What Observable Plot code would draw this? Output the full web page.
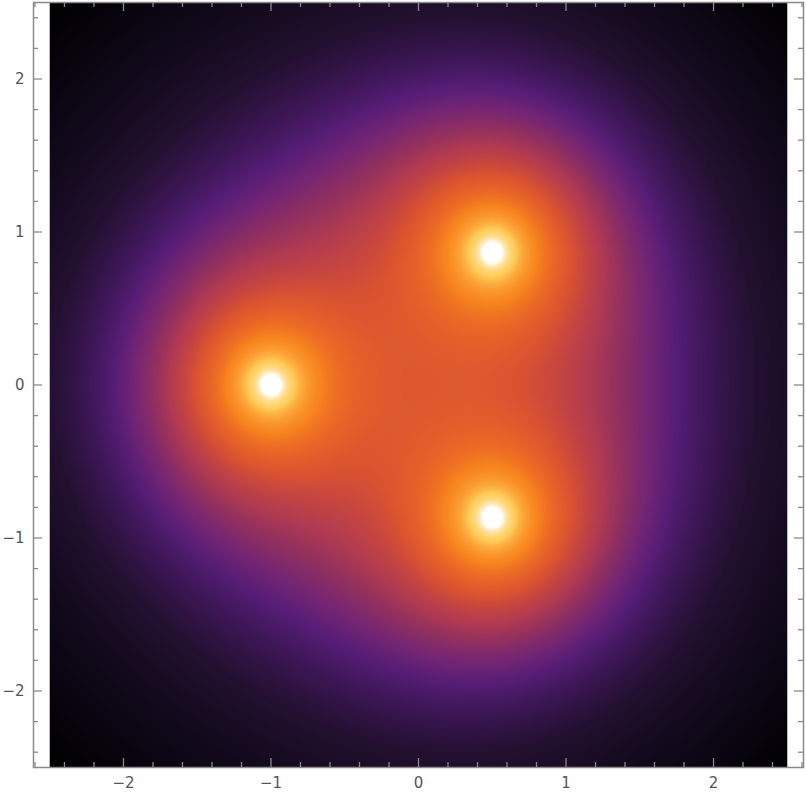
<!DOCTYPE html>
<html>
<head>
<meta charset="utf-8">
<script src="https://cdn.jsdelivr.net/npm/d3@7"></script>
<script src="https://cdn.jsdelivr.net/npm/@observablehq/plot@0.6"></script>
<style>
  html, body { margin: 0; padding: 0; background: #fff; }
  #chart { width: 806px; height: 808px; }
</style>
</head>
<body>
<div id="chart"></div>
<script>
// Point sources (charges) of the field
const sourceX = [-1, 0.5, 0.5];
const sourceY = [0, 0.866, -0.866];

// Colour stops (field value -> colour), SunsetColors-like
const stopValues = [0.85, 1.0, 1.3, 1.5, 1.68, 1.85, 2.07, 2.3, 2.6, 2.85, 3.1, 3.6, 4.3, 7.5, 16.0];
const stopColors = ["#000000", "#0a0612", "#22102f", "#3c1656", "#561d76", "#742574", "#92305f",
                    "#b03a52", "#c8463f", "#d85232", "#e05c2c", "#ec6c24", "#f8841e", "#ffcc58", "#ffffff"];

// Tick values
const majorTicks = [-2, -1, 0, 1, 2];
const minorTicksX = [-2.6, -2.4, -2.2, -1.8, -1.6, -1.4, -1.2, -0.8, -0.6, -0.4, -0.2,
                     0.2, 0.4, 0.6, 0.8, 1.2, 1.4, 1.6, 1.8, 2.2, 2.4, 2.6];
const minorTicksY = [-2.4, -2.2, -1.8, -1.6, -1.4, -1.2, -0.8, -0.6, -0.4, -0.2,
                     0.2, 0.4, 0.6, 0.8, 1.2, 1.4, 1.6, 1.8, 2.2, 2.4];

// Plot extents
const xFrame = [-2.61, 2.61];
const yFrame = [-2.5, 2.5];
const imageRange = [-2.5, 2.5];

const W = 806, H = 808, ML = 33, MR = 3, MT = 2, MB = 41;
const pxPerX = (W - ML - MR) / (xFrame[1] - xFrame[0]);
const pxPerY = (H - MT - MB) / (yFrame[1] - yFrame[0]);

function field(x, y) {
  let s = 0;
  for (let i = 0; i < sourceX.length; i++) {
    const r = Math.hypot(x - sourceX[i], y - sourceY[i]);
    s += 1 / Math.max(r, 1e-6);
  }
  return s;
}

const axisColor = "#8a8a8a";
const tickStyle = { stroke: axisColor, strokeWidth: 1.3 };

function ticksX(values, len) {
  const d = len / pxPerY;
  return [
    Plot.ruleX(values, { x: v => v, y1: yFrame[0], y2: yFrame[0] + d, ...tickStyle }),
    Plot.ruleX(values, { x: v => v, y1: yFrame[1], y2: yFrame[1] - d, ...tickStyle })
  ];
}
function ticksY(values, len) {
  const d = len / pxPerX;
  return [
    Plot.ruleY(values, { y: v => v, x1: xFrame[0], x2: xFrame[0] + d, ...tickStyle }),
    Plot.ruleY(values, { y: v => v, x1: xFrame[1], x2: xFrame[1] - d, ...tickStyle })
  ];
}

const fmt = d => (d < 0 ? "\u2212" + Math.abs(d) : String(d));

const chart = Plot.plot({
  width: W,
  height: H,
  marginLeft: ML,
  marginRight: MR,
  marginTop: MT,
  marginBottom: MB,
  style: { fontFamily: "'DejaVu Sans', sans-serif", background: "#fff" },
  x: { domain: xFrame, axis: null },
  y: { domain: yFrame, axis: null },
  color: { type: "linear", domain: stopValues, range: stopColors, clamp: true, interpolate: "rgb" },
  marks: [
    Plot.raster({
      fill: (x, y) => field(x, y),
      x1: imageRange[0], x2: imageRange[1],
      y1: imageRange[0], y2: imageRange[1],
      pixelSize: 1
    }),
    ...ticksX(majorTicks, 9),
    ...ticksX(minorTicksX, 5),
    ...ticksY(majorTicks, 9),
    ...ticksY(minorTicksY, 5),
    Plot.frame({ stroke: axisColor, strokeWidth: 1.5 }),
    Plot.axisX(majorTicks, { anchor: "bottom", tickSize: 0, tickPadding: 10, tickFormat: fmt, fontSize: 15, fill: "#555", label: null }),
    Plot.axisY(majorTicks, { anchor: "left", tickSize: 0, tickPadding: 9, tickFormat: fmt, fontSize: 15, fill: "#555", label: null })
  ]
});
document.getElementById("chart").appendChild(chart);
</script>
</body>
</html>
